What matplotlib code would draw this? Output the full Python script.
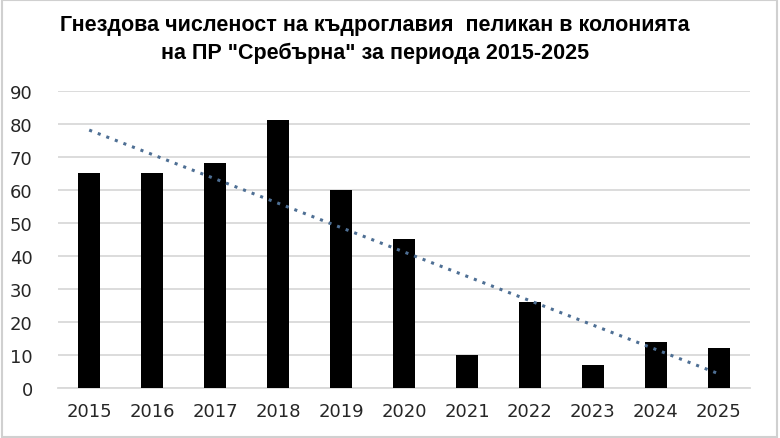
import numpy as np
import matplotlib.pyplot as plt
from matplotlib.patches import Rectangle

years = ["2015", "2016", "2017", "2018", "2019", "2020", "2021", "2022", "2023", "2024", "2025"]
nests = [65, 65, 68, 81, 60, 45, 10, 26, 7, 14, 12]

title = 'Гнездова численост на къдроглавия  пеликан в колонията\nна ПР "Сребърна" за периода 2015-2025'

plt.rcParams['font.family'] = ['DejaVu Sans']

fig = plt.figure(figsize=(7.8, 4.39), dpi=100)
ax = fig.add_axes([0.074, 0.114, 0.888, 0.677])

x = np.arange(len(years))
ax.bar(x, nests, width=0.34, color="black", zorder=3)

# linear trendline like in Excel
k, b = np.polyfit(x, nests, 1)
ax.plot(x, k * x + b, linestyle=(0, (1, 2)), color="#4e6f94", linewidth=2.2, zorder=4)

ax.set_xlim(-0.5, len(years) - 0.5)
ax.set_ylim(0, 90)
ax.set_yticks(range(0, 91, 10))
ax.set_xticks(x)
ax.set_xticklabels(years)
ax.yaxis.grid(True, color="#d9d9d9", linewidth=1.3, zorder=0)
for s in ["top", "right", "left"]:
    ax.spines[s].set_visible(False)
ax.spines["bottom"].set_color("#d9d9d9")
ax.spines["bottom"].set_linewidth(1.3)
ax.tick_params(length=0, labelsize=13, colors="#262626")
ax.tick_params(axis="x", pad=10)
ax.tick_params(axis="y", pad=18)

fig.text(0.481, 0.91, title, ha="center", va="center", fontsize=15.5, fontweight="bold",
         family="Liberation Sans", linespacing=1.4, color="black")

# thin frame around the chart
fig.patches.append(Rectangle((0.002, 0.002), 0.994, 0.996, transform=fig.transFigure,
                             fill=False, edgecolor="#d0d0d0", linewidth=1.5))

fig.savefig("out.png", dpi=100)
